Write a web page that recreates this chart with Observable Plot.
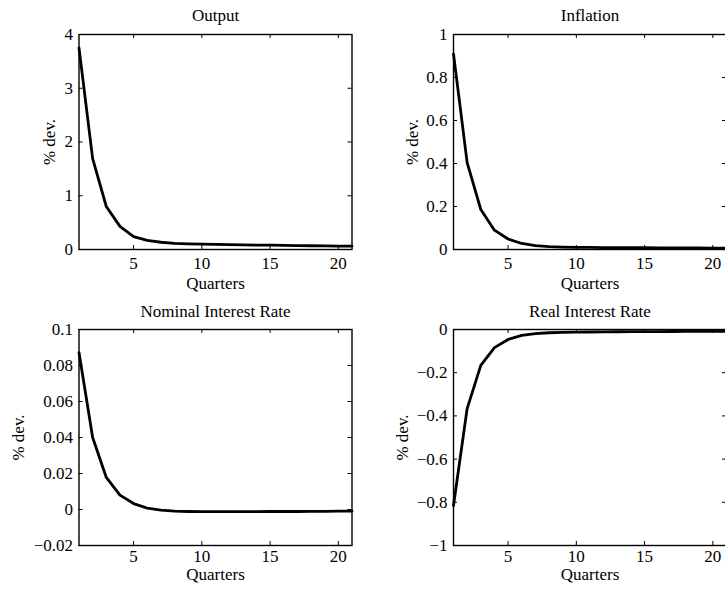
<!DOCTYPE html>
<html>
<head>
<meta charset="utf-8">
<script src="https://cdn.jsdelivr.net/npm/d3@7"></script>
<script src="https://cdn.jsdelivr.net/npm/@observablehq/plot@0.6"></script>
<style>
  html, body { margin: 0; padding: 0; background: #fff; overflow: hidden; }
  #wrap { position: relative; width: 725px; height: 592px; overflow: hidden; background: #fff; }
  #wrap > svg { position: absolute; overflow: visible; }
</style>
</head>
<body>
<div id="wrap"></div>
<script>
// ---- data ----
const quarters = [1,2,3,4,5,6,7,8,9,10,11,12,13,14,15,16,17,18,19,20,21];
const output = [3.75,1.69,0.80,0.43,0.24,0.17,0.135,0.115,0.105,0.10,0.095,0.09,0.087,0.083,0.08,0.076,0.073,0.07,0.067,0.064,0.061];
const inflation = [0.91,0.404,0.186,0.09,0.049,0.028,0.018,0.013,0.011,0.010,0.0095,0.009,0.0088,0.0085,0.0082,0.008,0.0077,0.0073,0.007,0.0066,0.0062];
const nominalRate = [0.0872,0.040,0.0178,0.008,0.0033,0.0008,-0.0004,-0.0009,-0.0011,-0.0012,-0.0012,-0.0012,-0.0012,-0.0012,-0.0011,-0.0011,-0.0011,-0.0010,-0.0010,-0.0009,-0.0009];
const realRate = [-0.815,-0.366,-0.166,-0.084,-0.046,-0.027,-0.019,-0.015,-0.013,-0.012,-0.0115,-0.011,-0.0105,-0.010,-0.0098,-0.0095,-0.0092,-0.009,-0.0087,-0.0084,-0.008];

const titles = ["Output", "Inflation", "Nominal Interest Rate", "Real Interest Rate"];
const xLabel = "Quarters";
const yLabel = "% dev.";
const xTicks = [5, 10, 15, 20];
const yTicksOutput = [0, 1, 2, 3, 4];
const yTicksInflation = [0, 0.2, 0.4, 0.6, 0.8, 1];
const yTicksNominal = [-0.02, 0, 0.02, 0.04, 0.06, 0.08, 0.1];
const yTicksReal = [-1, -0.8, -0.6, -0.4, -0.2, 0];

const fmt = d => (d < 0 ? "\u2212" : "") + String(Math.abs(+(+d).toFixed(4)));

function panel({left, top, width, height, mt, mb, ml, mr, title, values, yDomain, yTicks,
                titleDy, tickPadX, quartersDy, ylabDx}) {
  const fw = width - ml - mr, fh = height - mt - mb;
  const data = quarters.map((q, i) => ({q, v: values[i]}));
  const svg = Plot.plot({
    width, height,
    marginTop: mt, marginBottom: mb, marginLeft: ml, marginRight: mr,
    style: {fontFamily: "'Liberation Serif', 'Times New Roman', serif", fontSize: "17px", color: "#000", background: "transparent", overflow: "visible"},
    x: {domain: [1, 21]},
    y: {domain: yDomain},
    marks: [
      Plot.axisX({ticks: xTicks, tickSize: 0, tickPadding: tickPadX, tickFormat: fmt, label: null, fontSize: 17}),
      Plot.axisY({ticks: yTicks, tickSize: 0, tickPadding: 6, tickFormat: fmt, label: null, fontSize: 17}),
      // inward tick marks on all four sides
      Plot.tickX(xTicks, {x: d => d, insetTop: fh - 4, stroke: "#000", strokeWidth: 1}),
      Plot.tickX(xTicks, {x: d => d, insetBottom: fh - 4, stroke: "#000", strokeWidth: 1}),
      Plot.tickY(yTicks, {y: d => d, insetRight: fw - 4, stroke: "#000", strokeWidth: 1}),
      Plot.tickY(yTicks, {y: d => d, insetLeft: fw - 4, stroke: "#000", strokeWidth: 1}),
      Plot.line(data, {x: "q", y: "v", stroke: "#000", strokeWidth: 2.8, strokeLinejoin: "round"}),
      Plot.frame({stroke: "#000", strokeWidth: 1.4}),
      Plot.text([title], {frameAnchor: "top", lineAnchor: "bottom", dy: titleDy, fontSize: 17}),
      Plot.text([xLabel], {frameAnchor: "bottom", lineAnchor: "bottom", dy: quartersDy, fontSize: 17}),
      Plot.text([yLabel], {frameAnchor: "left", rotate: -90, textAnchor: "middle", lineAnchor: "middle", dx: ylabDx, fontSize: 17})
    ]
  });
  svg.style.left = left + "px";
  svg.style.top = top + "px";
  document.getElementById("wrap").appendChild(svg);
}

panel({left: 0, top: 0, width: 362, height: 296, mt: 34, mb: 47, ml: 78.5, mr: 10.5,
  title: titles[0], values: output, yDomain: [0, 4], yTicks: yTicksOutput,
  titleDy: -14, tickPadX: 7.5, quartersDy: 39, ylabDx: -29});
panel({left: 362, top: 0, width: 372, height: 296, mt: 34, mb: 47, ml: 91, mr: 8,
  title: titles[1], values: inflation, yDomain: [0, 1], yTicks: yTicksInflation,
  titleDy: -14, tickPadX: 7.5, quartersDy: 39, ylabDx: -41});
panel({left: 0, top: 296, width: 362, height: 296, mt: 33, mb: 47, ml: 78.5, mr: 10.5,
  title: titles[2], values: nominalRate, yDomain: [-0.02, 0.1], yTicks: yTicksNominal,
  titleDy: -13, tickPadX: 4, quartersDy: 34.5, ylabDx: -60});
panel({left: 362, top: 296, width: 372, height: 296, mt: 33, mb: 47, ml: 91, mr: 8,
  title: titles[3], values: realRate, yDomain: [-1, 0], yTicks: yTicksReal,
  titleDy: -13, tickPadX: 4, quartersDy: 34.5, ylabDx: -51});
</script>
</body>
</html>
